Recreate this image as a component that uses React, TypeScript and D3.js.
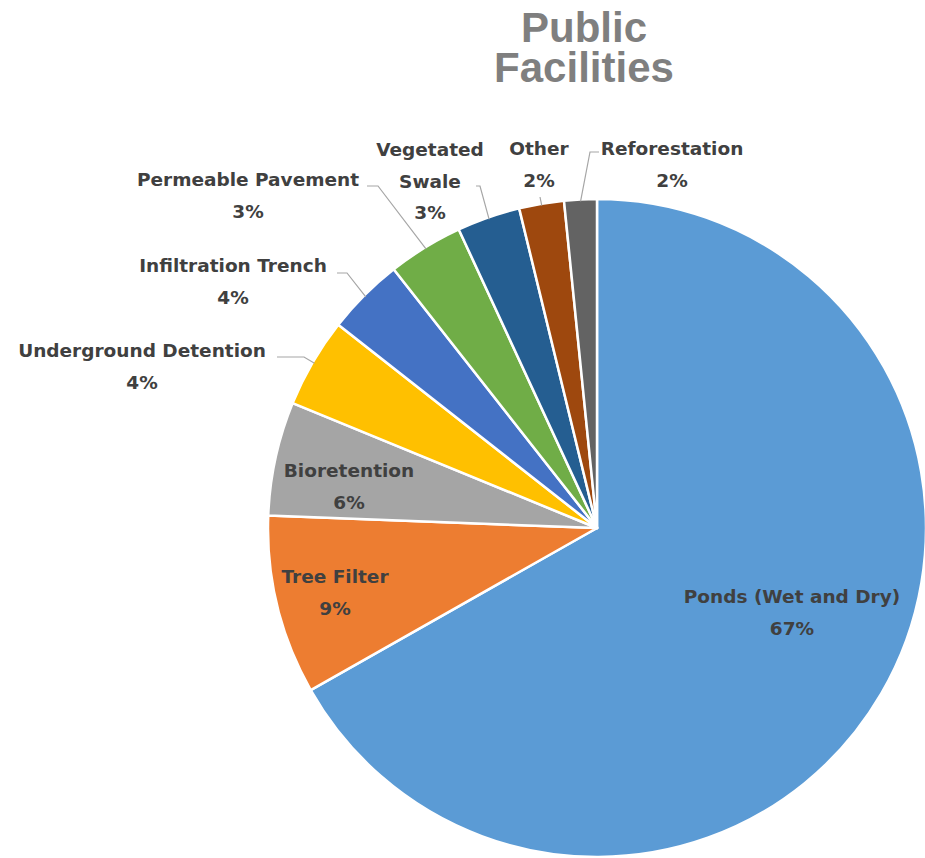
import React from "react";
import * as d3 from "d3";

const categories = [
  "Ponds (Wet and Dry)",
  "Tree Filter",
  "Bioretention",
  "Underground Detention",
  "Infiltration Trench",
  "Permeable Pavement",
  "Vegetated Swale",
  "Other",
  "Reforestation",
];
const values = [66.8, 8.8, 5.6, 4.4, 3.8, 3.7, 3.1, 2.2, 1.6];
const pctLabels = ["67%", "9%", "6%", "4%", "4%", "3%", "3%", "2%", "2%"];
const colors = ["#5B9BD5", "#ED7D31", "#A5A5A5", "#FFC000", "#4472C4", "#70AD47", "#255E91", "#9E480E", "#636363"];
const titleLines = ["Public", "Facilities"];

// layout: label center x, first baseline y, name lines, leader start/elbow
const layout: Record<string, { x: number; y: number; lines: string[]; lead?: [number, number][] }> = {
  "Ponds (Wet and Dry)": { x: 792, y: 603, lines: ["Ponds (Wet and Dry)"] },
  "Tree Filter": { x: 335, y: 583, lines: ["Tree Filter"] },
  "Bioretention": { x: 349, y: 477, lines: ["Bioretention"] },
  "Underground Detention": { x: 142, y: 357, lines: ["Underground Detention"], lead: [[277, 357], [304, 357]] },
  "Infiltration Trench": { x: 233, y: 272, lines: ["Infiltration Trench"], lead: [[337, 273], [347, 273]] },
  "Permeable Pavement": { x: 248, y: 186, lines: ["Permeable Pavement"], lead: [[367, 186], [378, 186]] },
  "Vegetated Swale": { x: 430, y: 156, lines: ["Vegetated", "Swale"], lead: [[476, 186], [480, 186]] },
  "Other": { x: 539, y: 155, lines: ["Other"], lead: [[540, 197]] },
  "Reforestation": { x: 672, y: 155, lines: ["Reforestation"], lead: [[599, 152], [590, 152]] },
};

const W = 925;
const H = 858;
const cx = 597;
const cy = 528;
const R = 329;
const lineH = 31.5;

export default function App() {
  const pie = d3.pie<number>().sort(null).startAngle(0).endAngle(2 * Math.PI);
  const arcs = pie(values);
  const arc = d3.arc<d3.PieArcDatum<number>>().innerRadius(0).outerRadius(R);
  const edge = d3.arc<d3.PieArcDatum<number>>().innerRadius(R - 2).outerRadius(R - 2);

  return (
    <svg width={W} height={H} style={{ position: "absolute", left: 0, top: 0, background: "#fff" }}>
      <g fontFamily="Liberation Sans, Arial, sans-serif" fontWeight="bold" fontSize={42} fill="#7F7F7F" textAnchor="middle">
        {titleLines.map((t, i) => (
          <text key={t} x={584} y={42 + i * 40}>{t}</text>
        ))}
      </g>
      <g transform={`translate(${cx},${cy})`}>
        {arcs.map((a, i) => (
          <path key={categories[i]} d={arc(a) || ""} fill={colors[i]} stroke="#fff" strokeWidth={2.5} strokeLinejoin="round" />
        ))}
      </g>
      <g fill="none" stroke="#A6A6A6" strokeWidth={1.2}>
        {arcs.map((a, i) => {
          const L = layout[categories[i]];
          if (!L.lead) return null;
          const [ex, ey] = edge.centroid(a);
          const pts = [...L.lead, [ex + cx, ey + cy]];
          return <polyline key={categories[i]} points={pts.map((p) => p.join(",")).join(" ")} />;
        })}
      </g>
      <g fontFamily="DejaVu Sans, Verdana, sans-serif" fontWeight="bold" fontSize={18.5} fill="#404040" textAnchor="middle">
        {categories.map((c, i) => {
          const L = layout[c];
          return (
            <text key={c}>
              {L.lines.map((ln, j) => (
                <tspan key={j} x={L.x} y={L.y + j * lineH}>{ln}</tspan>
              ))}
              <tspan x={L.x} y={L.y + L.lines.length * lineH}>{pctLabels[i]}</tspan>
            </text>
          );
        })}
      </g>
    </svg>
  );
}
